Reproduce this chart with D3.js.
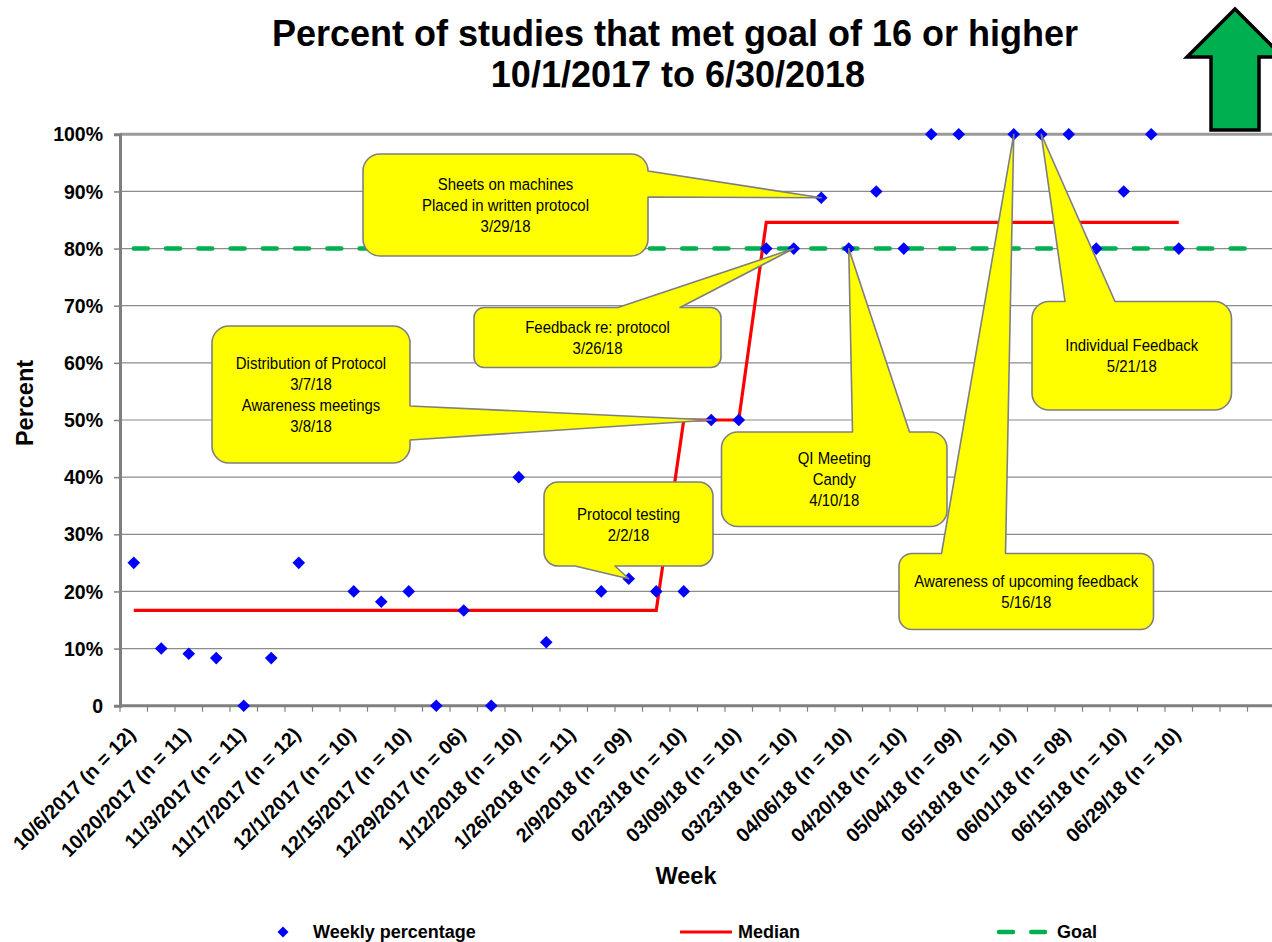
<!DOCTYPE html>
<html>
<head>
<meta charset="utf-8">
<script src="https://cdn.jsdelivr.net/npm/d3@7/dist/d3.min.js"></script>
<style>
  html, body { margin: 0; padding: 0; background: #fff; }
  svg { display: block; }
  text { font-family: "Liberation Sans", Arial, sans-serif; }
</style>
</head>
<body>
<svg id="chart" width="1272" height="942"></svg>
<script>
// ---- data -------------------------------------------------------------
// labels shown on every other week (week-ending date and number of studies)
const tickLabels = [
  "10/6/2017 (n = 12)", "10/20/2017 (n = 11)", "11/3/2017 (n = 11)", "11/17/2017 (n = 12)",
  "12/1/2017 (n = 10)", "12/15/2017 (n = 10)", "12/29/2017 (n = 06)", "1/12/2018 (n = 10)",
  "1/26/2018 (n = 11)", "2/9/2018 (n = 09)", "02/23/18 (n = 10)", "03/09/18 (n = 10)",
  "03/23/18 (n = 10)", "04/06/18 (n = 10)", "04/20/18 (n = 10)", "05/04/18 (n = 09)",
  "05/18/18 (n = 10)", "06/01/18 (n = 08)", "06/15/18 (n = 10)", "06/29/18 (n = 10)"
];
const weekSlots = 43;   // category slots on the x axis

// weekly percentage of studies meeting the goal (null = no point shown)
const weekly = [
  25, 10, 9.09, 8.33, 0, 8.33, 25, null, 20, 18.18,
  20, 0, 16.67, 0, 40, 11.11, null, 20, 22.22, 20,
  20, 50, 50, 80, 80, 88.89, 80, 90, 80, 100,
  100, null, 100, 100, 100, 80, 90, 100, 80
];

// median of the weekly percentages, by phase
const median = [
  16.67, 16.67, 16.67, 16.67, 16.67, 16.67, 16.67, 16.67, 16.67, 16.67,
  16.67, 16.67, 16.67, 16.67, 16.67, 16.67, 16.67, 16.67, 16.67, 16.67,
  50, 50, 50, 84.6, 84.6, 84.6, 84.6, 84.6, 84.6, 84.6,
  84.6, 84.6, 84.6, 84.6, 84.6, 84.6, 84.6, 84.6, 84.6
];

const goal = 80;
const goalWeeks = [0, 41];   // first and last week the goal line spans

const yTicks = [0, 10, 20, 30, 40, 50, 60, 70, 80, 90, 100];

// interventions: text and the week whose point the callout marks
const notes = [
  { lines: ["Sheets on machines", "Placed in written protocol", "3/29/18"], week: 25 },
  { lines: ["Feedback re: protocol", "3/26/18"], week: 24 },
  { lines: ["Distribution of Protocol", "3/7/18", "Awareness meetings", "3/8/18"], week: 21 },
  { lines: ["Protocol testing", "2/2/18"], week: 18 },
  { lines: ["QI Meeting", "Candy", "4/10/18"], week: 26 },
  { lines: ["Awareness of upcoming feedback", "5/16/18"], week: 32 },
  { lines: ["Individual Feedback", "5/21/18"], week: 33 }
];

// callout boxes: position, which side the pointer leaves from, pointer base span
const noteBoxes = [
  { x: 363, y: 154, w: 285, h: 102, side: "right", b: [171, 197] },
  { x: 474, y: 307.5, w: 247, h: 60, side: "top", b: [618, 680] },
  { x: 212, y: 326, w: 198, h: 137, side: "right", b: [406, 440] },
  { x: 544, y: 482, w: 169, h: 84, side: "bottom", b: [575, 615] },
  { x: 721.5, y: 432, w: 225.5, h: 94.5, side: "top", b: [852.5, 909.5] },
  { x: 899, y: 553.5, w: 254.5, h: 76, side: "top", b: [941.5, 1005.5] },
  { x: 1032, y: 301.5, w: 199.5, h: 108.5, side: "top", b: [1065, 1115] }
];

// ---- layout -----------------------------------------------------------
const svg = d3.select("#chart");
const left = 120, step = 27.5;
const yTop = 134.3, yBottom = 705.7;

const x = d3.scaleBand()
  .domain(d3.range(weekSlots))
  .range([left, left + step * weekSlots])
  .paddingInner(0).paddingOuter(0);
const cx = i => x(i) + x.bandwidth() / 2;
const y = d3.scaleLinear().domain([0, 100]).range([yBottom, yTop]);

// ---- title ------------------------------------------------------------
const title = svg.append("g").attr("font-weight", "bold").attr("font-size", 36)
  .attr("text-anchor", "middle").attr("fill", "#000");
title.append("text").attr("x", 675).attr("y", 46).text("Percent of studies that met goal of 16 or higher");
title.append("text").attr("x", 678).attr("y", 87).text("10/1/2017 to 6/30/2018");

// ---- gridlines --------------------------------------------------------
svg.append("g").selectAll("line")
  .data(yTicks.filter(d => d > 0 && d < 100))
  .join("line")
  .attr("x1", left).attr("x2", 1272)
  .attr("y1", d => y(d)).attr("y2", d => y(d))
  .attr("stroke", "#8c8c8c").attr("stroke-width", 1.2);

// top border of the plot area
svg.append("line")
  .attr("x1", left).attr("x2", 1272)
  .attr("y1", y(100)).attr("y2", y(100))
  .attr("stroke", "#9a9a9a").attr("stroke-width", 3);

// ---- y axis -----------------------------------------------------------
const yAxis = svg.append("g")
  .attr("transform", `translate(${left},0)`)
  .call(d3.axisLeft(y).tickValues(yTicks)
    .tickFormat(d => d === 0 ? "0" : d + "%")
    .tickSize(6).tickPadding(11));
yAxis.select(".domain").attr("stroke", "#7f7f7f").attr("stroke-width", 3);
yAxis.selectAll(".tick line").attr("stroke", "#7f7f7f").attr("stroke-width", 1.5);
yAxis.selectAll(".tick text")
  .attr("font-family", "Liberation Sans, Arial, sans-serif")
  .attr("font-weight", "bold").attr("font-size", 19.5).attr("fill", "#000")
  .attr("dy", "0.34em");

// ---- x axis -----------------------------------------------------------
const xAxis = svg.append("g");
xAxis.append("line")
  .attr("x1", left).attr("x2", 1272)
  .attr("y1", yBottom).attr("y2", yBottom)
  .attr("stroke", "#7f7f7f").attr("stroke-width", 3);
xAxis.selectAll("line.tick")
  .data(d3.range(weekSlots + 1))
  .join("line").attr("class", "tick")
  .attr("x1", i => left + i * step).attr("x2", i => left + i * step)
  .attr("y1", yBottom).attr("y2", yBottom + 6)
  .attr("stroke", "#7f7f7f").attr("stroke-width", 1.2);
xAxis.selectAll("text")
  .data(tickLabels)
  .join("text")
  .attr("transform", (d, i) => `translate(${cx(i * 2) + 3},${yBottom + 30}) rotate(-45)`)
  .attr("text-anchor", "end")
  .attr("font-weight", "bold").attr("font-size", 19.8).attr("fill", "#000")
  .text(d => d);

// axis titles
svg.append("text")
  .attr("transform", `translate(33,403) rotate(-90)`)
  .attr("text-anchor", "middle").attr("font-weight", "bold").attr("font-size", 23.5)
  .text("Percent");
svg.append("text")
  .attr("x", 686).attr("y", 884)
  .attr("text-anchor", "middle").attr("font-weight", "bold").attr("font-size", 23.5)
  .text("Week");

// ---- goal and median lines --------------------------------------------
svg.append("line")
  .attr("x1", cx(goalWeeks[0])).attr("x2", cx(goalWeeks[1]))
  .attr("y1", y(goal)).attr("y2", y(goal))
  .attr("stroke", "#00b050").attr("stroke-width", 4.5)
  .attr("stroke-dasharray", "14,18.26").attr("stroke-linecap", "round");

svg.append("path")
  .datum(median)
  .attr("fill", "none").attr("stroke", "#ff0000").attr("stroke-width", 3.2)
  .attr("d", d3.line().x((d, i) => cx(i)).y(d => y(d)));

// ---- weekly points ----------------------------------------------------
const diamond = "M0,-6.3L6.3,0L0,6.3L-6.3,0Z";
svg.append("g").selectAll("path")
  .data(weekly.map((v, i) => ({ v, i })).filter(d => d.v !== null))
  .join("path")
  .attr("d", diamond)
  .attr("transform", d => `translate(${cx(d.i)},${y(d.v)})`)
  .attr("fill", "#0000ff");

// ---- callouts ---------------------------------------------------------
function calloutPath(b, tip) {
  const { x: bx, y: by, w, h, side } = b;
  const r = Math.min(17, h * 0.17);
  const [b1, b2] = b.b;
  const p = d3.path();
  p.moveTo(bx + r, by);
  if (side === "top") { p.lineTo(b1, by); p.lineTo(tip[0], tip[1]); p.lineTo(b2, by); }
  p.lineTo(bx + w - r, by);
  p.arcTo(bx + w, by, bx + w, by + r, r);
  if (side === "right") { p.lineTo(bx + w, b1); p.lineTo(tip[0], tip[1]); p.lineTo(bx + w, b2); }
  p.lineTo(bx + w, by + h - r);
  p.arcTo(bx + w, by + h, bx + w - r, by + h, r);
  if (side === "bottom") { p.lineTo(b2, by + h); p.lineTo(tip[0], tip[1]); p.lineTo(b1, by + h); }
  p.lineTo(bx + r, by + h);
  p.arcTo(bx, by + h, bx, by + h - r, r);
  if (side === "left") { p.lineTo(bx, b2); p.lineTo(tip[0], tip[1]); p.lineTo(bx, b1); }
  p.lineTo(bx, by + r);
  p.arcTo(bx, by, bx + r, by, r);
  p.closePath();
  return p.toString();
}

const callouts = svg.append("g").selectAll("g")
  .data(notes.map((n, k) => ({ ...n, box: noteBoxes[k] })))
  .join("g");
callouts.append("path")
  .attr("d", d => calloutPath(d.box, [cx(d.week), y(weekly[d.week])]))
  .attr("fill", "#ffff00").attr("stroke", "#7f7f7f").attr("stroke-width", 1.6)
  .attr("stroke-linejoin", "round");
callouts.each(function (d) {
  const g = d3.select(this);
  const n = d.lines.length, lh = 21;
  const midX = d.box.x + d.box.w / 2;
  const midY = d.box.y + d.box.h / 2;
  d.lines.forEach((t, k) => {
    const ty = midY + (k - (n - 1) / 2) * lh + 6;
    g.append("text")
      .attr("transform", `translate(${midX},${ty}) scale(0.88,1)`)
      .attr("text-anchor", "middle").attr("font-size", 17).attr("fill", "#000")
      .text(t);
  });
});

// ---- up arrow (higher is better) --------------------------------------
svg.append("path")
  .attr("d", "M1235,9L1283,57L1259,57L1259,130L1211,130L1211,57L1187,57Z")
  .attr("fill", "#00b050").attr("stroke", "#000").attr("stroke-width", 3.5)
  .attr("stroke-linejoin", "miter");

// ---- legend -----------------------------------------------------------
const lg = svg.append("g").attr("font-weight", "bold").attr("font-size", 18);
const ly = 932;
lg.append("path").attr("d", "M0,-5.5L5.5,0L0,5.5L-5.5,0Z")
  .attr("transform", `translate(283,${ly})`).attr("fill", "#0000ff");
lg.append("text").attr("x", 313).attr("y", ly + 6).text("Weekly percentage");
lg.append("line").attr("x1", 680).attr("x2", 732).attr("y1", ly).attr("y2", ly)
  .attr("stroke", "#ff0000").attr("stroke-width", 3.2);
lg.append("text").attr("x", 738).attr("y", ly + 6).text("Median");
lg.append("line").attr("x1", 999).attr("x2", 1045).attr("y1", ly).attr("y2", ly)
  .attr("stroke", "#00b050").attr("stroke-width", 4.5)
  .attr("stroke-dasharray", "14,18.26").attr("stroke-linecap", "round");
lg.append("text").attr("x", 1057).attr("y", ly + 6).text("Goal");
</script>
</body>
</html>
